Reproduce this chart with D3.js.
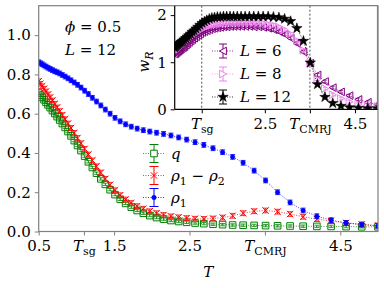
<!DOCTYPE html>
<html>
<head>
<meta charset="utf-8">
<script src="https://cdn.jsdelivr.net/npm/d3@7"></script>
<style>
body { margin: 0; background: #fff; }
text { font-family: "DejaVu Serif", serif; }
</style>
</head>
<body>
<div id="vis"></div>
<script>
// temperatures (same grid for every series)
const temps = [
  0.500, 0.523, 0.546, 0.571, 0.597, 0.624, 0.652, 0.682, 0.713, 0.745,
  0.779, 0.814, 0.851, 0.889, 0.929, 0.972, 1.015, 1.061, 1.109, 1.159,
  1.212, 1.267, 1.324, 1.384, 1.447, 1.512, 1.581, 1.653, 1.728, 1.806,
  1.888, 1.973, 2.063, 2.156, 2.254, 2.356, 2.462, 2.574, 2.690, 2.812,
  2.939, 3.072, 3.211, 3.357, 3.509, 3.668, 3.834, 4.007, 4.189, 4.378,
  4.577, 4.784, 5.000
];

// main panel
const qVals = [
  0.705, 0.694, 0.683, 0.671, 0.658, 0.645, 0.631, 0.616, 0.601, 0.585,
  0.568, 0.550, 0.530, 0.509, 0.487, 0.463, 0.438, 0.412, 0.384, 0.355,
  0.326, 0.297, 0.268, 0.240, 0.213, 0.188, 0.164, 0.143, 0.124, 0.107,
  0.093, 0.081, 0.071, 0.063, 0.056, 0.051, 0.047, 0.043, 0.040, 0.037,
  0.035, 0.033, 0.032, 0.031, 0.030, 0.029, 0.028, 0.027, 0.026, 0.026,
  0.025, 0.024, 0.024
];
const rhoDiff = [
  0.765, 0.752, 0.740, 0.727, 0.713, 0.698, 0.683, 0.667, 0.650, 0.632,
  0.613, 0.593, 0.572, 0.550, 0.527, 0.502, 0.476, 0.449, 0.421, 0.392,
  0.362, 0.332, 0.300, 0.268, 0.238, 0.210, 0.185, 0.163, 0.145, 0.129,
  0.116, 0.103, 0.093, 0.084, 0.077, 0.072, 0.068, 0.065, 0.064, 0.066,
  0.071, 0.080, 0.093, 0.103, 0.107, 0.101, 0.089, 0.075, 0.063, 0.053,
  0.044, 0.036, 0.031
];
const rho1 = [
  0.862, 0.857, 0.852, 0.846, 0.840, 0.834, 0.828, 0.822, 0.816, 0.811,
  0.805, 0.797, 0.789, 0.780, 0.770, 0.759, 0.747, 0.733, 0.717, 0.700,
  0.681, 0.662, 0.642, 0.621, 0.600, 0.579, 0.561, 0.546, 0.534, 0.524,
  0.516, 0.509, 0.503, 0.497, 0.489, 0.479, 0.468, 0.455, 0.441, 0.424,
  0.404, 0.380, 0.350, 0.310, 0.260, 0.200, 0.148, 0.107, 0.078, 0.058,
  0.044, 0.035, 0.028
];
const errQ = 0.006, errDiff = 0.012, errRho1 = 0.012;

// inset w_R
const wR6 = [
  1.17, 1.19, 1.21, 1.23, 1.25, 1.27, 1.29, 1.31, 1.33, 1.36,
  1.39, 1.42, 1.45, 1.48, 1.51, 1.54, 1.57, 1.60, 1.63, 1.65,
  1.67, 1.69, 1.71, 1.72, 1.73, 1.74, 1.75, 1.75, 1.76, 1.76,
  1.76, 1.76, 1.76, 1.76, 1.75, 1.75, 1.74, 1.72, 1.69, 1.65,
  1.59, 1.51, 1.40, 1.22, 0.98, 0.73, 0.59, 0.46, 0.37, 0.29,
  0.21, 0.15, 0.10
];
const wR8 = [
  1.23, 1.25, 1.27, 1.29, 1.31, 1.33, 1.35, 1.38, 1.41, 1.44,
  1.47, 1.50, 1.53, 1.56, 1.59, 1.62, 1.65, 1.68, 1.71, 1.73,
  1.75, 1.77, 1.79, 1.80, 1.81, 1.82, 1.83, 1.83, 1.84, 1.84,
  1.84, 1.84, 1.84, 1.84, 1.84, 1.84, 1.83, 1.81, 1.79, 1.75,
  1.69, 1.60, 1.46, 1.25, 0.97, 0.64, 0.44, 0.31, 0.23, 0.16,
  0.11, 0.08, 0.06
];
const wR12 = [
  1.31, 1.33, 1.35, 1.37, 1.39, 1.41, 1.43, 1.45, 1.48, 1.51,
  1.54, 1.57, 1.60, 1.64, 1.67, 1.71, 1.75, 1.79, 1.83, 1.86,
  1.89, 1.92, 1.94, 1.95, 1.96, 1.96, 1.97, 1.97, 1.97, 1.97,
  1.97, 1.97, 1.97, 1.97, 1.97, 1.97, 1.97, 1.97, 1.96, 1.95,
  1.92, 1.87, 1.72, 1.45, 0.99, 0.53, 0.26, 0.13, 0.07, 0.04,
  0.03, 0.02, 0.02
];
const errW = 0.03;

// ticks
const mainXTicks = [0.5, 1.1, 1.5, 2.5, 3.5, 4.5];
const mainXLabels = ["0.5", "T|sg", "1.5", "2.5", "T|CMRJ", "4.5"];
const mainYTicks = [0.0, 0.2, 0.4, 0.6, 0.8, 1.0];
const insetXTicks = [1.1, 2.5, 3.5, 4.5];
const insetXLabels = ["T|sg", "2.5", "T|CMRJ", "4.5"];
const insetYTicks = [0, 1, 2];
const tSg = 1.1, tCmrj = 3.5;

// layout
const W = 384, H = 288;
const main = { left: 38.7, right: 378, top: 5.7, bottom: 231.5 };
const ins = { left: 174.7, right: 377.5, top: 5.7, bottom: 109.3 };
const fs = 15;

const svg = d3.select("#vis").append("svg")
  .attr("width", W).attr("height", H);

const x = d3.scaleLinear().domain([0.5, 5.0]).range([main.left, main.right]);
const y = d3.scaleLinear().domain([0, 1.15]).range([main.bottom, main.top]);
const xi = d3.scaleLinear().domain([0.5, 5.0]).range([ins.left, ins.right]);
const yi = d3.scaleLinear().domain([0, 2.2]).range([ins.bottom, ins.top]);

// markers
const markers = {
  square: { d: "M-3.3,-3.3H3.3V3.3H-3.3Z", fill: false },
  times: { d: "M-3.2,-3.2L3.2,3.2M-3.2,3.2L3.2,-3.2", fill: false },
  dot: { d: d3.symbol(d3.symbolCircle, 16)(), fill: true },
  triLeft: { d: "M-3.6,0L3.4,-3.8L3.4,3.8Z", fill: false },
  triRight: { d: "M3.6,0L-3.4,-3.8L-3.4,3.8Z", fill: false },
  star: { d: d3.symbol(d3.symbolStar, 34)(), fill: true }
};

// write "T|sub" style labels as italic letter + subscript
function writeTick(sel, label) {
  sel.text(null);
  const parts = label.split("|");
  if (parts.length === 2) {
    sel.append("tspan").style("font-style", "italic").text(parts[0]);
    sel.append("tspan").attr("dy", 4).style("font-size", "11px").text(parts[1]);
  } else {
    sel.text(label);
  }
}

// parts: [string, kind] kind = i italic, s subscript (upright), si italic subscript, n normal
function mathText(sel, parts) {
  let down = false;
  parts.forEach(([str, kind]) => {
    const t = sel.append("tspan").text(str);
    if (kind === "i" || kind === "si") t.style("font-style", "italic");
    if (kind === "s" || kind === "si") {
      t.style("font-size", "11px");
      if (!down) { t.attr("dy", 4); down = true; }
    } else if (down) {
      t.attr("dy", -4); down = false;
    }
  });
}

function styleAxis(g, color, labels) {
  g.select(".domain").remove();
  g.attr("font-family", null).attr("font-size", null);
  g.selectAll(".tick line").attr("stroke", color).attr("stroke-width", 1);
  g.selectAll(".tick text").style("font-size", fs + "px").attr("fill", "#000")
    .each(function (d, i) { if (labels) writeTick(d3.select(this), labels[i]); });
}

// clip paths
const defs = svg.append("defs");
defs.append("clipPath").attr("id", "clipMain").append("rect")
  .attr("x", main.left).attr("y", main.top)
  .attr("width", main.right - main.left).attr("height", main.bottom - main.top);
defs.append("clipPath").attr("id", "clipInset").append("rect")
  .attr("x", ins.left).attr("y", ins.top)
  .attr("width", ins.right - ins.left).attr("height", ins.bottom - ins.top);

function drawSeries(g, xs, ys, vals, err, color, marker, cap) {
  const pts = temps.map((t, i) => ({ t: t, v: vals[i] }));
  g.append("path").datum(pts)
    .attr("fill", "none").attr("stroke", color)
    .attr("stroke-width", 0.8).attr("stroke-dasharray", "1,1.5")
    .attr("d", d3.line().x(d => xs(d.t)).y(d => ys(d.v)));
  const eb = g.append("g").attr("stroke", color).attr("stroke-width", 0.8);
  pts.forEach(d => {
    const cx = xs(d.t), y0 = ys(d.v - err), y1 = ys(d.v + err);
    eb.append("line").attr("x1", cx).attr("x2", cx).attr("y1", y0).attr("y2", y1);
    eb.append("line").attr("x1", cx - cap).attr("x2", cx + cap).attr("y1", y0).attr("y2", y0);
    eb.append("line").attr("x1", cx - cap).attr("x2", cx + cap).attr("y1", y1).attr("y2", y1);
  });
  g.selectAll(null).data(pts).enter().append("path")
    .attr("transform", d => `translate(${xs(d.t)},${ys(d.v)})`)
    .attr("d", marker.d)
    .attr("fill", marker.fill ? color : "none")
    .attr("stroke", color)
    .attr("stroke-width", marker.fill ? 0.5 : 1);
}

function legendEntry(g, lx, ly, color, marker, parts, half, cap, lineW) {
  g.append("line").attr("x1", lx - lineW).attr("x2", lx + lineW)
    .attr("y1", ly).attr("y2", ly)
    .attr("stroke", color).attr("stroke-width", 0.8).attr("stroke-dasharray", "1,1.5");
  const eb = g.append("g").attr("stroke", color).attr("stroke-width", 1);
  eb.append("line").attr("x1", lx).attr("x2", lx).attr("y1", ly - half).attr("y2", ly + half);
  eb.append("line").attr("x1", lx - cap).attr("x2", lx + cap).attr("y1", ly - half).attr("y2", ly - half);
  eb.append("line").attr("x1", lx - cap).attr("x2", lx + cap).attr("y1", ly + half).attr("y2", ly + half);
  g.append("path").attr("transform", `translate(${lx},${ly})`)
    .attr("d", marker.d)
    .attr("fill", marker.fill ? color : "#fff")
    .attr("stroke", color).attr("stroke-width", marker.fill ? 0.5 : 1);
  const t = g.append("text").attr("x", lx + lineW + 6).attr("y", ly + 5)
    .style("font-size", fs + "px");
  mathText(t, parts);
}

// ---------- main panel ----------
const plot = svg.append("g").attr("clip-path", "url(#clipMain)");
drawSeries(plot, x, y, qVals, errQ, "green", markers.square, 2.5);
drawSeries(plot, x, y, rhoDiff, errDiff, "red", markers.times, 2.5);
drawSeries(plot, x, y, rho1, errRho1, "blue", markers.dot, 2.5);

svg.append("g").attr("transform", `translate(0,${main.bottom})`)
  .call(d3.axisBottom(x).tickValues(mainXTicks).tickSize(4).tickPadding(5))
  .call(g => styleAxis(g, "#808080", mainXLabels));
svg.append("g").attr("transform", `translate(${main.left},0)`)
  .call(d3.axisLeft(y).tickValues(mainYTicks).tickFormat(d3.format(".1f")).tickSize(4).tickPadding(4))
  .call(g => styleAxis(g, "#808080", null));

svg.append("rect")
  .attr("x", main.left).attr("y", main.top)
  .attr("width", main.right - main.left).attr("height", main.bottom - main.top)
  .attr("fill", "none").attr("stroke", "#808080").attr("stroke-width", 1.2);

// x label
const xl = svg.append("text").attr("x", (main.left + main.right) / 2).attr("y", 277)
  .attr("text-anchor", "middle").style("font-size", fs + "px");
mathText(xl, [["T", "i"]]);

// annotation
const a1 = svg.append("text").attr("x", 65).attr("y", 32).style("font-size", fs + "px");
mathText(a1, [["ϕ", "i"], [" = 0.5", "n"]]);
const a2 = svg.append("text").attr("x", 65).attr("y", 55).style("font-size", fs + "px");
mathText(a2, [["L", "i"], [" = 12", "n"]]);

// main legend
const mainLegend = [
  { color: "green", marker: markers.square, parts: [["q", "i"]] },
  { color: "red", marker: markers.times, parts: [["ρ", "i"], ["1", "s"], [" − ", "n"], ["ρ", "i"], ["2", "s"]] },
  { color: "blue", marker: markers.dot, parts: [["ρ", "i"], ["1", "s"]] }
];
const lg = svg.append("g");
mainLegend.forEach((e, i) => {
  legendEntry(lg, 154, 153.5 + i * 22, e.color, e.marker, e.parts, 9, 4.5, 11);
});

// ---------- inset ----------
svg.append("rect")
  .attr("x", ins.left).attr("y", ins.top)
  .attr("width", ins.right - ins.left).attr("height", ins.bottom - ins.top)
  .attr("fill", "#fff");

const iplot = svg.append("g").attr("clip-path", "url(#clipInset)");
[tSg, tCmrj].forEach(t => {
  iplot.append("line").attr("x1", xi(t)).attr("x2", xi(t))
    .attr("y1", ins.top).attr("y2", ins.bottom)
    .attr("stroke", "#000").attr("stroke-width", 0.7).attr("stroke-dasharray", "2,2");
});
drawSeries(iplot, xi, yi, wR6, errW, "purple", markers.triLeft, 2);
drawSeries(iplot, xi, yi, wR8, errW, "violet", markers.triRight, 2);
drawSeries(iplot, xi, yi, wR12, errW, "black", markers.star, 2);

svg.append("g").attr("transform", `translate(0,${ins.bottom})`)
  .call(d3.axisBottom(xi).tickValues(insetXTicks).tickSize(4).tickPadding(5))
  .call(g => styleAxis(g, "#000", insetXLabels));
svg.append("g").attr("transform", `translate(${ins.left},0)`)
  .call(d3.axisLeft(yi).tickValues(insetYTicks).tickFormat(d3.format("d")).tickSize(4).tickPadding(4))
  .call(g => styleAxis(g, "#000", null));

// inset spines: top/right grey, left/bottom black
svg.append("line").attr("x1", ins.left).attr("x2", ins.right).attr("y1", ins.top).attr("y2", ins.top)
  .attr("stroke", "#808080").attr("stroke-width", 1.2);
svg.append("line").attr("x1", ins.right).attr("x2", ins.right).attr("y1", ins.top).attr("y2", ins.bottom)
  .attr("stroke", "#808080").attr("stroke-width", 1.2);
svg.append("line").attr("x1", ins.left).attr("x2", ins.left).attr("y1", ins.top).attr("y2", ins.bottom)
  .attr("stroke", "#000").attr("stroke-width", 1.2);
svg.append("line").attr("x1", ins.left).attr("x2", ins.right).attr("y1", ins.bottom).attr("y2", ins.bottom)
  .attr("stroke", "#000").attr("stroke-width", 1.2);

// inset y label
const wl = svg.append("text").attr("transform", "translate(149,62) rotate(-90)")
  .attr("text-anchor", "middle").style("font-size", fs + "px");
mathText(wl, [["w", "i"], ["R", "si"]]);

// inset legend
const insetLegend = [
  { color: "purple", marker: markers.triLeft, parts: [["L", "i"], [" = 6", "n"]] },
  { color: "violet", marker: markers.triRight, parts: [["L", "i"], [" = 8", "n"]] },
  { color: "black", marker: markers.star, parts: [["L", "i"], [" = 12", "n"]] }
];
const ilg = svg.append("g");
insetLegend.forEach((e, i) => {
  legendEntry(ilg, 223, 51 + i * 23, e.color, e.marker, e.parts, 7, 4, 11);
});
</script>
</body>
</html>
